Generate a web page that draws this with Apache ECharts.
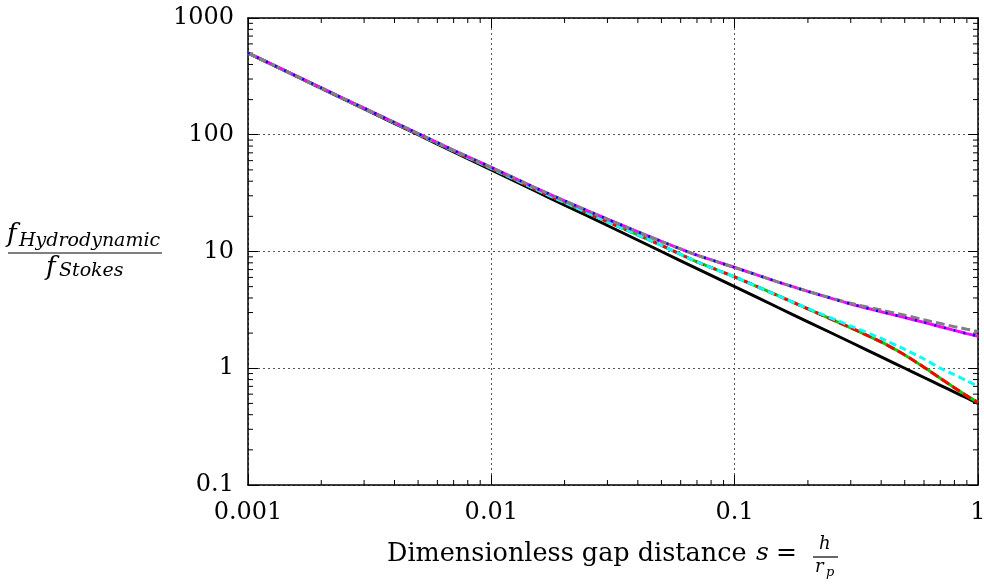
<!DOCTYPE html>
<html>
<head>
<meta charset="utf-8">
<script src="https://cdn.jsdelivr.net/npm/echarts@6/dist/echarts.min.js"></script>
<style>
  html, body { margin: 0; padding: 0; background: #fff; }
  #main { width: 984px; height: 587px; }
</style>
</head>
<body>
<div id="main"></div>
<script>
// gap distance s = h / r_p
const gapS = [0.001, 0.002, 0.003, 0.005, 0.007, 0.01, 0.015, 0.02, 0.03, 0.05, 0.07,
  0.1, 0.15, 0.2, 0.3, 0.4, 0.5, 0.6, 0.7, 0.8, 0.9, 1.0];

// f_Hydrodynamic / f_Stokes
const blackVals = [500, 250, 166.7, 100, 71.4, 50, 33.3, 25, 16.7, 10, 7.14,
  5, 3.33, 2.5, 1.67, 1.25, 1.0, 0.833, 0.714, 0.625, 0.556, 0.5];
const greenVals = [501, 251, 168, 101.5, 72.6, 51.6, 34.6, 26.3, 18.0, 11.3, 8.15,
  6.05, 4.2, 3.22, 2.22, 1.68, 1.3, 1.02, 0.82, 0.68, 0.58, 0.51];
const redVals = [501, 251, 168, 101.5, 72.6, 51.6, 34.6, 26.3, 18.0, 11.3, 8.15,
  6.05, 4.2, 3.22, 2.22, 1.68, 1.3, 1.02, 0.82, 0.68, 0.58, 0.51];
const cyanVals = [501, 251, 168, 101.5, 72.6, 51.6, 34.6, 26.3, 18.0, 11.3, 8.15,
  6.05, 4.2, 3.25, 2.3, 1.8, 1.45, 1.2, 1.0, 0.88, 0.78, 0.70];
const magentaVals = [502, 252, 169, 102.5, 73.6, 52.5, 35.5, 27.2, 18.9, 12.2, 9.3,
  7.3, 5.5, 4.55, 3.55, 3.05, 2.72, 2.47, 2.27, 2.11, 1.98, 1.88];
const blueVals = [502, 252, 169, 102.5, 73.6, 52.5, 35.5, 27.2, 18.9, 12.2, 9.3,
  7.3, 5.5, 4.55, 3.55, 3.05, 2.72, 2.47, 2.27, 2.11, 1.98, 1.88];
const greyVals = [502, 252, 169, 102.5, 73.6, 52.5, 35.5, 27.2, 18.9, 12.2, 9.3,
  7.3, 5.5, 4.56, 3.6, 3.15, 2.85, 2.6, 2.42, 2.27, 2.16, 2.07];

// axis ticks
const xTickLabels = ['0.001', '0.01', '0.1', '1'];
const yTickLabels = ['0.1', '1', '10', '100', '1000'];
const xMinorTicks = [0.002, 0.003, 0.004, 0.005, 0.006, 0.007, 0.008, 0.009,
  0.02, 0.03, 0.04, 0.05, 0.06, 0.07, 0.08, 0.09,
  0.2, 0.3, 0.4, 0.5, 0.6, 0.7, 0.8, 0.9];
const yMinorTicks = [0.2, 0.3, 0.4, 0.5, 0.6, 0.7, 0.8, 0.9,
  2, 3, 4, 5, 6, 7, 8, 9,
  20, 30, 40, 50, 60, 70, 80, 90,
  200, 300, 400, 500, 600, 700, 800, 900];

const FONT = 'DejaVu Serif';
const X_MIN = 0.001, X_MAX = 1, Y_MIN = 0.1, Y_MAX = 1000;

const chart = echarts.init(document.getElementById('main'), null, { renderer: 'canvas' });

function pairs(vals) {
  return gapS.map((s, i) => [s, vals[i]]);
}

function lineSeries(name, vals, color, width, dash, z) {
  return {
    name: name,
    type: 'line',
    data: pairs(vals),
    symbol: 'none',
    smooth: 0.2,
    z: z,
    lineStyle: { color: color, width: width, type: dash }
  };
}

const axisCommon = {
  type: 'log',
  logBase: 10,
  axisLine: { show: true, onZero: false, lineStyle: { color: '#000', width: 1.5 } },
  axisTick: { show: true, inside: true, length: 10, lineStyle: { color: '#000', width: 1 } }
};

const option = {
  animation: false,
  backgroundColor: '#fff',
  grid: {
    left: 248, right: 6, top: 18, bottom: 102,
    containLabel: false,
    outerBoundsMode: 'none'
  },
  xAxis: [
    Object.assign({}, axisCommon, {
      min: X_MIN, max: X_MAX,
      position: 'bottom',
      axisLabel: {
        margin: 16, color: '#000', fontFamily: FONT, fontSize: 24,
        formatter: v => xTickLabels[Math.round(Math.log10(v)) + 3]
      },
      splitLine: { show: true, lineStyle: { color: '#555', width: 1, type: [2, 3] } }
    }),
    Object.assign({}, axisCommon, {
      min: X_MIN, max: X_MAX,
      position: 'top',
      axisLabel: { show: false },
      splitLine: { show: false }
    })
  ],
  yAxis: [
    Object.assign({}, axisCommon, {
      min: Y_MIN, max: Y_MAX,
      position: 'left',
      axisLabel: {
        margin: 14, color: '#000', fontFamily: FONT, fontSize: 24,
        formatter: v => yTickLabels[Math.round(Math.log10(v)) + 1]
      },
      splitLine: { show: true, lineStyle: { color: '#555', width: 1, type: [2, 3] } }
    }),
    Object.assign({}, axisCommon, {
      min: Y_MIN, max: Y_MAX,
      position: 'right',
      axisLabel: { show: false },
      splitLine: { show: false }
    })
  ],
  series: [
    // minor ticks on bottom and top
    {
      type: 'custom',
      silent: true,
      clip: false,
      data: xMinorTicks.map(v => [v, 1]),
      renderItem: function(params, api) {
        const v = api.value(0);
        const b = api.coord([v, Y_MIN]);
        const t = api.coord([v, Y_MAX]);
        return {
          type: 'group',
          children: [
            { type: 'line', shape: { x1: b[0], y1: b[1], x2: b[0], y2: b[1] - 5 }, style: { stroke: '#000', lineWidth: 1 } },
            { type: 'line', shape: { x1: t[0], y1: t[1], x2: t[0], y2: t[1] + 5 }, style: { stroke: '#000', lineWidth: 1 } }
          ]
        };
      }
    },
    // minor ticks on left and right
    {
      type: 'custom',
      silent: true,
      clip: false,
      data: yMinorTicks.map(v => [0.01, v]),
      renderItem: function(params, api) {
        const v = api.value(1);
        const l = api.coord([X_MIN, v]);
        const r = api.coord([X_MAX, v]);
        return {
          type: 'group',
          children: [
            { type: 'line', shape: { x1: l[0], y1: l[1], x2: l[0] + 5, y2: l[1] }, style: { stroke: '#000', lineWidth: 1 } },
            { type: 'line', shape: { x1: r[0], y1: r[1], x2: r[0] - 5, y2: r[1] }, style: { stroke: '#000', lineWidth: 1 } }
          ]
        };
      }
    },
    lineSeries('black', blackVals, '#000000', 3, 'solid', 2),
    lineSeries('green', greenVals, '#00d000', 3, 'solid', 3),
    lineSeries('red', redVals, '#ff0000', 3, [9, 4], 4),
    lineSeries('cyan', cyanVals, '#00ffff', 3, [7, 4], 5),
    lineSeries('magenta', magentaVals, '#ff00ff', 3, 'solid', 6),
    lineSeries('grey', greyVals, '#808080', 3, [9, 4], 7),
    lineSeries('blue', blueVals, '#0000ff', 2.5, [2, 8], 8)
  ],
  graphic: [
    // y axis label: f_Hydrodynamic / f_Stokes
    { type: 'text', left: 7, top: 222, style: { text: 'f', font: 'italic 26px "DejaVu Serif"', fill: '#000' } },
    { type: 'text', left: 19, top: 232, style: { text: 'Hydrodynamic', font: 'italic 19px "DejaVu Serif"', fill: '#000' } },
    { type: 'line', shape: { x1: 8, y1: 253, x2: 162, y2: 253 }, style: { stroke: '#000', lineWidth: 1.2 } },
    { type: 'text', left: 46, top: 255, style: { text: 'f', font: 'italic 26px "DejaVu Serif"', fill: '#000' } },
    { type: 'text', left: 59, top: 262, style: { text: 'Stokes', font: 'italic 19px "DejaVu Serif"', fill: '#000' } },
    // x axis label
    { type: 'text', left: 387, top: 541, style: { text: 'Dimensionless gap distance', font: '25.5px "DejaVu Serif"', fill: '#000' } },
    { type: 'text', left: 756, top: 541, style: { text: 's', font: 'italic 25px "DejaVu Serif"', fill: '#000' } },
    { type: 'text', left: 776, top: 541, style: { text: '=', font: '25px "DejaVu Serif"', fill: '#000' } },
    { type: 'text', left: 819, top: 535, style: { text: 'h', font: 'italic 18px "DejaVu Serif"', fill: '#000' } },
    { type: 'line', shape: { x1: 813, y1: 557, x2: 838, y2: 557 }, style: { stroke: '#000', lineWidth: 1.2 } },
    { type: 'text', left: 815, top: 558, style: { text: 'r', font: 'italic 18px "DejaVu Serif"', fill: '#000' } },
    { type: 'text', left: 826, top: 566, style: { text: 'p', font: 'italic 13px "DejaVu Serif"', fill: '#000' } }
  ]
};

chart.setOption(option);
</script>
</body>
</html>
